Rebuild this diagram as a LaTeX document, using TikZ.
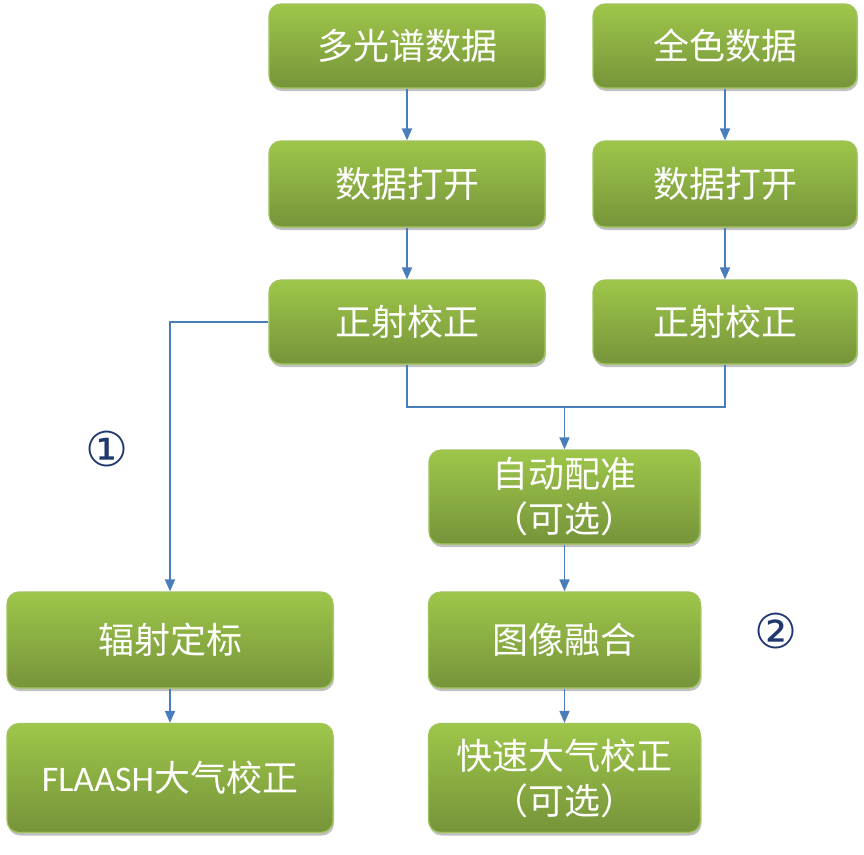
\documentclass[tikz,border=0pt]{standalone}
\usepackage{fontspec}
\setmainfont{Noto Sans CJK SC}
\newfontfamily\latinfont{Carlito}
\newfontfamily\symfont{DejaVu Sans}
\usetikzlibrary{shadows,arrows.meta}
\definecolor{gtop}{RGB}{158,198,74}
\definecolor{gbot}{RGB}{118,148,58}
\definecolor{gborder}{RGB}{160,196,92}
\definecolor{arrowblue}{RGB}{74,126,187}
\definecolor{navy}{RGB}{32,56,110}
\tikzset{
  box/.style={rounded corners=12pt, draw=gborder, line width=1.2pt,
    top color=gtop, bottom color=gbot, text=white, align=center,
    inner sep=0pt, font=\fontsize{36}{45}\selectfont,
    drop shadow={shadow xshift=1pt, shadow yshift=-3pt, opacity=0.35, fill=black!70}},
  link/.style={draw=arrowblue, line width=1.8pt},
  arr/.style={link, -{Triangle[width=10pt,length=12pt]}},
  numlabel/.style={text=navy, font=\symfont\fontsize{48}{48}\selectfont, inner sep=0pt}
}
\begin{document}
\begin{tikzpicture}[x=1pt,y=-1pt]
\useasboundingbox (0,0) rectangle (864,854);
\node[box, minimum width=276pt, minimum height=84pt] (ms) at (407,46) {多光谱数据};
\node[box, minimum width=264pt, minimum height=84pt] (qs) at (725,46) {全色数据};
\node[box, minimum width=276pt, minimum height=86pt] (dk1) at (407,184) {数据打开};
\node[box, minimum width=264pt, minimum height=86pt] (dk2) at (725,184) {数据打开};
\node[box, minimum width=276pt, minimum height=84pt] (zs1) at (407,322) {正射校正};
\node[box, minimum width=264pt, minimum height=84pt] (zs2) at (725,322) {正射校正};
\node[box, minimum width=271pt, minimum height=94pt] (pz) at (564.5,497) {自动配准\\（可选）};
\node[box, minimum width=272pt, minimum height=96pt] (rh) at (564.5,640) {图像融合};
\node[box, minimum width=272pt, minimum height=109pt] (kj) at (564.5,778) {快速大气校正\\（可选）};
\node[box, minimum width=326pt, minimum height=96pt] (fs) at (170,640) {辐射定标};
\node[box, minimum width=326pt, minimum height=109pt] (fl) at (170,778) {{\latinfont FLAASH}大气校正};
\node[numlabel] (m1) at (107,449) {①};
\node[numlabel] (m2) at (776,631) {②};
\coordinate (mg) at (564.5,407);
\draw[arr] (ms) -- (dk1);
\draw[arr] (qs) -- (dk2);
\draw[arr] (dk1) -- (zs1);
\draw[arr] (dk2) -- (zs2);
\draw[link] (zs1.south) |- (mg) -| (zs2.south);
\draw[arr] (mg) -- (pz.north);
\draw[arr] (zs1.west) -| (fs.north);
\draw[arr] (pz) -- (rh);
\draw[arr] (rh) -- (kj);
\draw[arr] (fs) -- (fl);
\end{tikzpicture}
\end{document}
